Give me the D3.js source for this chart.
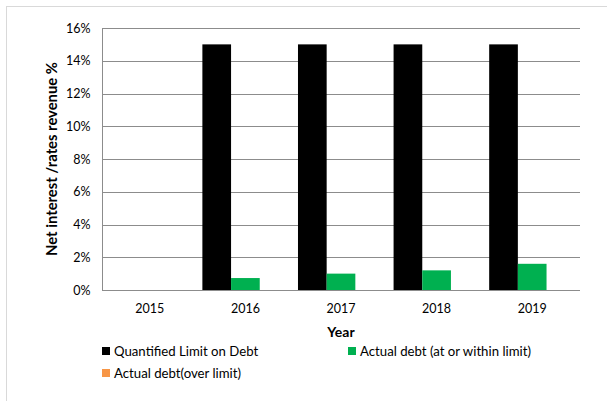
<!DOCTYPE html>
<html><head><meta charset="utf-8">
<script src="https://cdn.jsdelivr.net/npm/d3@7"></script>
<style>body{margin:0;background:#fff}svg{display:block}text{font-family:Lato,"Open Sans",sans-serif;fill:#000}</style>
</head><body><div id="c"></div>
<script>
const years = ["2015","2016","2017","2018","2019"];
const seriesNames = ["Quantified Limit on Debt","Actual debt (at or within limit)","Actual debt(over limit)"];
const limitValues = [null, 0.15, 0.15, 0.15, 0.15];
const withinValues = [null, 0.0073, 0.010, 0.012, 0.016];
const overValues = [null, 0, 0, 0, 0];
const seriesColors = ["#000000","#00B050","#F79646"];
const yTicks = [0,0.02,0.04,0.06,0.08,0.10,0.12,0.14,0.16];

const W=607,H=401;
const svg=d3.select("#c").append("svg").attr("width",W).attr("height",H);
svg.append("rect").attr("x",6.5).attr("y",6.5).attr("width",W+10).attr("height",H+10).attr("fill","none").attr("stroke","#d9d9d9");

const m={l:102,r:580,t:28,b:290};
const x=d3.scaleBand().domain(years).range([m.l,m.r]).paddingInner(0.1).paddingOuter(0.05);
const xs=d3.scaleBand().domain([0,1,2]).range([0,x.bandwidth()]);
const y=d3.scaleLinear().domain([0,0.16]).range([m.b,m.t]);

// gridlines
svg.append("g").selectAll("line").data(yTicks).join("line")
 .attr("x1",m.l).attr("x2",m.r).attr("y1",d=>Math.round(y(d))+0.5).attr("y2",d=>Math.round(y(d))+0.5)
 .attr("stroke","#8c8c8c").attr("stroke-width",1);

const all=[limitValues,withinValues,overValues];
all.forEach((vals,si)=>{
  svg.append("g").selectAll("rect").data(years.map((yr,i)=>({yr,v:vals[i]})).filter(d=>d.v!=null&&d.v>0)).join("rect")
   .attr("x",d=>x(d.yr)+xs(si)).attr("width",xs.bandwidth())
   .attr("y",d=>y(d.v)).attr("height",d=>y(0)-y(d.v)).attr("fill",seriesColors[si]);
});

// y axis
const ya=svg.append("g").attr("transform",`translate(${m.l+0.5},0)`)
 .call(d3.axisLeft(y).tickValues(yTicks).tickFormat(d3.format(".0%")).tickSize(0).tickPadding(12));
ya.select(".domain").attr("stroke","#8c8c8c").attr("d",`M0,${m.t}V${m.b}`);
ya.selectAll("text").attr("font-size","12.5px").style("font-family","Lato,sans-serif");

// x axis
const xa=svg.append("g").attr("transform",`translate(0,${m.b+0.5})`)
 .call(d3.axisBottom(x).tickSize(0).tickPadding(14));
xa.select(".domain").attr("stroke","#8c8c8c").attr("d",`M${m.l},0H${m.r}`);
xa.selectAll("text").attr("font-size","12.5px").style("font-family","Lato,sans-serif");

svg.append("text").attr("x",(m.l+m.r)/2).attr("y",337).attr("text-anchor","middle")
 .attr("font-size","14px").attr("font-weight","bold").text("Year");
svg.append("text").attr("transform",`translate(57,${(m.t+m.b)/2}) rotate(-90)`).attr("text-anchor","middle")
 .attr("font-size","14.8px").attr("font-weight","bold").text("Net interest /rates revenue %");

// legend
const leg=[{i:0,x:102,y:347},{i:1,x:348,y:347},{i:2,x:102,y:369}];
leg.forEach(l=>{
  svg.append("rect").attr("x",l.x).attr("y",l.y).attr("width",8).attr("height",8).attr("fill",seriesColors[l.i]);
  svg.append("text").attr("x",l.x+12).attr("y",l.y+4).attr("dy","0.35em").attr("font-size","13.2px").text(seriesNames[l.i]);
});
</script></body></html>
